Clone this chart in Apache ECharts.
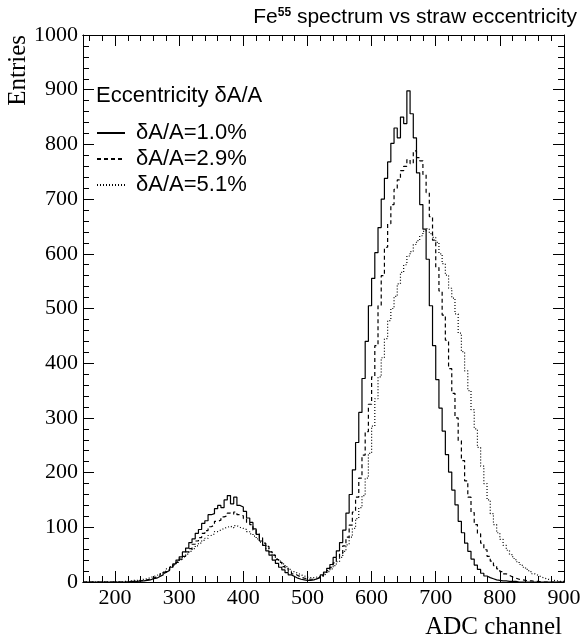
<!DOCTYPE html>
<html>
<head>
<meta charset="utf-8">
<script src="https://cdn.jsdelivr.net/npm/echarts@6/dist/echarts.min.js"></script>
<style>
  html, body { margin: 0; padding: 0; background: #ffffff; }
  #chart { width: 582px; height: 634px; }
</style>
</head>
<body>
<div id="chart"></div>
<script>
// Histogram binning: 5 ADC channels per bin, first bin starts at channel 150
const binStart = 150;
const binWidth = 5;

// Entries per bin, eccentricity dA/A = 1.0 %
const ecc10 = [
  0, 0, 0, 0, 0, 0, 0, 0, 0, 0,
  0, 0, 0, 0, 1, 0, 1, 2, 2, 3,
  4, 6, 7, 10, 13, 18, 21, 27, 33, 40,
  46, 55, 62, 72, 79, 89, 96, 107, 112, 123,
  125, 134, 140, 136, 150, 158, 143, 155, 140, 137,
  129, 117, 109, 97, 87, 75, 67, 57, 49, 40,
  34, 27, 22, 17, 13, 10, 7, 5, 4, 3,
  3, 4, 6, 9, 13, 18, 25, 32, 45, 57,
  72, 95, 126, 160, 205, 255, 310, 372, 440, 505,
  555, 602, 648, 700, 738, 768, 802, 830, 812, 850,
  838, 898, 856, 812, 748, 690, 645, 590, 505, 432,
  370, 318, 276, 233, 201, 168, 141, 111, 90, 71,
  56, 42, 31, 23, 16, 11, 8, 6, 4, 3,
  2, 2, 1, 1, 1, 0, 0, 0, 0, 0,
  0, 0, 0, 0, 0, 0, 0, 0, 0, 0
];

// Entries per bin, eccentricity dA/A = 2.9 %
const ecc29 = [
  0, 0, 0, 0, 0, 0, 0, 0, 0, 0,
  0, 0, 0, 0, 1, 1, 2, 2, 3, 4,
  5, 7, 9, 11, 15, 18, 22, 27, 31, 36,
  42, 47, 55, 61, 69, 75, 81, 89, 94, 101,
  104, 111, 113, 119, 121, 126, 124, 128, 123, 121,
  116, 109, 105, 95, 88, 81, 71, 65, 55, 49,
  41, 36, 28, 24, 19, 15, 12, 9, 7, 6,
  5, 5, 6, 8, 11, 15, 21, 27, 35, 45,
  52, 66, 82, 104, 128, 155, 190, 232, 275, 325,
  375, 432, 505, 560, 612, 655, 690, 718, 735, 752,
  760, 772, 765, 788, 776, 770, 745, 712, 668, 625,
  575, 532, 488, 442, 390, 345, 300, 258, 222, 185,
  155, 127, 105, 88, 71, 59, 47, 38, 30, 24,
  19, 15, 12, 9, 7, 5, 4, 3, 2, 2,
  1, 1, 0, 0, 0, 0, 0, 0, 0, 0
];

// Entries per bin, eccentricity dA/A = 5.1 %
const ecc51 = [
  0, 0, 0, 0, 0, 0, 0, 0, 0, 0,
  0, 0, 1, 1, 2, 3, 3, 4, 5, 6,
  8, 10, 12, 14, 17, 20, 24, 28, 32, 37,
  41, 46, 51, 56, 61, 66, 71, 76, 80, 85,
  88, 92, 95, 98, 100, 102, 99, 103, 100, 98,
  96, 92, 88, 84, 79, 73, 67, 61, 55, 49,
  43, 38, 33, 28, 23, 19, 16, 13, 11, 9,
  8, 8, 9, 10, 12, 15, 19, 24, 30, 37,
  45, 56, 68, 82, 98, 116, 136, 158, 190, 235,
  285, 335, 375, 410, 445, 478, 500, 522, 545, 566,
  580, 596, 604, 617, 624, 633, 641, 646, 637, 630,
  621, 600, 582, 561, 537, 519, 490, 455, 421, 386,
  350, 315, 280, 246, 212, 180, 150, 125, 105, 90,
  78, 67, 58, 50, 43, 37, 32, 27, 23, 19,
  15, 12, 9, 7, 5, 4, 3, 2, 1, 1
];

const seriesNames = ['δA/A=1.0%', 'δA/A=2.9%', 'δA/A=5.1%'];

// Axis ticks and labels
const xMajorTicks = [200, 300, 400, 500, 600, 700, 800, 900];
const xMinorTicks = [160, 180, 200, 220, 240, 260, 280, 300, 320, 340, 360, 380,
  400, 420, 440, 460, 480, 500, 520, 540, 560, 580, 600, 620, 640, 660, 680,
  700, 720, 740, 760, 780, 800, 820, 840, 860, 880, 900];

const serif = 'Liberation Serif';
const sans = 'Liberation Sans';

// Turn bin contents into step-line points (left edge of each bin, plus closing edge)
function toSteps(counts) {
  const pts = counts.map((v, i) => [binStart + i * binWidth, v]);
  pts.push([binStart + counts.length * binWidth, counts[counts.length - 1]]);
  return pts;
}

function xAxisDef(pos, ticks, len, opts) {
  return Object.assign({
    type: 'value', min: 150, max: 900, position: pos,
    axisLine: { show: true, onZero: false, lineStyle: { color: '#000', width: 1 } },
    axisTick: { show: true, inside: true, length: len, customValues: ticks,
      lineStyle: { color: '#000', width: 1 } },
    axisLabel: { show: false },
    splitLine: { show: false }
  }, opts || {});
}

function yAxisDef(pos, opts) {
  return Object.assign({
    type: 'value', min: 0, max: 1000, interval: 100, position: pos,
    axisLine: { show: true, onZero: false, lineStyle: { color: '#000', width: 1 } },
    axisTick: { show: true, inside: true, length: 11, lineStyle: { color: '#000', width: 1 } },
    minorTick: { show: true, splitNumber: 5, length: 6, lineStyle: { color: '#000', width: 1 } },
    axisLabel: { show: false },
    splitLine: { show: false },
    minorSplitLine: { show: false }
  }, opts || {});
}

const chart = echarts.init(document.getElementById('chart'), null, { renderer: 'canvas' });

chart.setOption({
  animation: false,
  backgroundColor: '#ffffff',
  title: [
    {
      text: '{a|Fe}{s|55}{a| spectrum vs straw eccentricity}',
      right: 0, top: 2,
      textStyle: {
        rich: {
          a: { fontFamily: sans, fontSize: 21, fontWeight: 'normal', color: '#000' },
          s: { fontFamily: sans, fontSize: 12, fontWeight: 'bold', color: '#000',
               verticalAlign: 'top', padding: [0, 0, 8, 0] }
        }
      }
    },
    {
      text: 'Eccentricity δA/A',
      left: 96, top: 85, padding: 0,
      textStyle: { fontFamily: sans, fontSize: 22, fontWeight: 'normal', color: '#000' }
    }
  ],
  legend: {
    show: true,
    orient: 'vertical',
    left: 96, top: 122, padding: 0,
    itemWidth: 28, itemHeight: 14, itemGap: 4,
    itemStyle: { opacity: 0 },
    data: seriesNames,
    textStyle: { fontFamily: sans, fontSize: 22, color: '#000', lineHeight: 20,
                 padding: [0, 0, 0, 6] }
  },
  grid: { left: 83, right: 18, top: 35, bottom: 52, containLabel: false,
          outerBoundsMode: 'none' },
  xAxis: [
    xAxisDef('bottom', xMajorTicks, 11, {
      axisLabel: { show: true, customValues: xMajorTicks, color: '#000',
                   fontFamily: serif, fontSize: 22, margin: 5 },
      name: 'ADC channel', nameLocation: 'end', nameGap: -2,
      nameTextStyle: { fontFamily: serif, fontSize: 25, color: '#000',
                       align: 'right', verticalAlign: 'top', padding: [33, 0, 0, 0] }
    }),
    xAxisDef('bottom', xMinorTicks, 6),
    xAxisDef('top', xMajorTicks, 11),
    xAxisDef('top', xMinorTicks, 6)
  ],
  yAxis: [
    yAxisDef('left', {
      axisLabel: { show: true, color: '#000', fontFamily: serif, fontSize: 22, margin: 5,
                   formatter: v => String(v) },
      name: 'Entries', nameLocation: 'end', nameGap: 0, nameRotate: 90,
      nameTextStyle: { fontFamily: serif, fontSize: 25, color: '#000',
                       align: 'right', verticalAlign: 'bottom', padding: [0, 0, 52, 0] }
    }),
    yAxisDef('right')
  ],
  series: [
    { name: seriesNames[0], data: toSteps(ecc10), dash: 'solid' },
    { name: seriesNames[1], data: toSteps(ecc29), dash: [4, 3] },
    { name: seriesNames[2], data: toSteps(ecc51), dash: [1, 2] }
  ].map(s => ({
    name: s.name,
    type: 'line',
    step: 'end',
    xAxisIndex: 0, yAxisIndex: 0,
    symbol: 'none',
    data: s.data,
    itemStyle: { color: '#000' },
    lineStyle: { color: '#000', width: 1.2, type: s.dash },
    z: 3
  }))
});
</script>
</body>
</html>
